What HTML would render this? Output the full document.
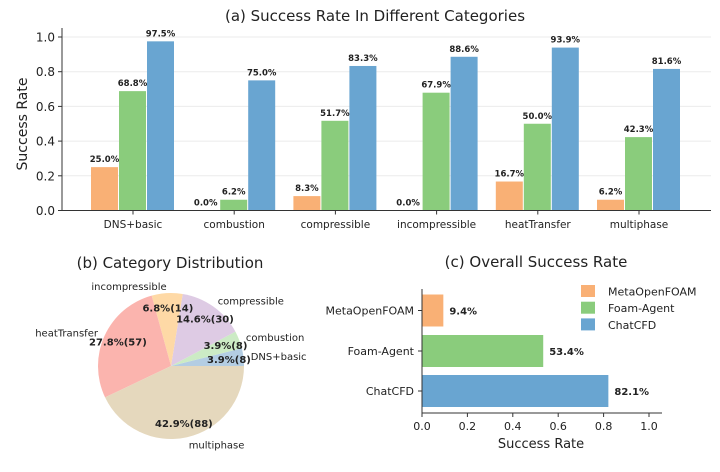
<!DOCTYPE html>
<html><head><meta charset="utf-8"><style>
body{margin:0;background:#fff;}
svg text{font-family:"DejaVu Sans","Liberation Sans",sans-serif;fill:#222;}
</style></head><body>
<svg id="s" width="720" height="467" xmlns="http://www.w3.org/2000/svg"></svg>
<script>
const categories=["DNS+basic","combustion","compressible","incompressible","heatTransfer","multiphase"];
const metaVals=[0.250,0.0,0.083,0.0,0.167,0.062];
const foamVals=[0.688,0.062,0.517,0.679,0.500,0.423];
const chatVals=[0.975,0.750,0.833,0.886,0.939,0.816];
const seriesNames=["MetaOpenFOAM","Foam-Agent","ChatCFD"];
const seriesColors=["#f9b075","#8acc7c","#69a5d1"];
const yTicks=[0,0.2,0.4,0.6,0.8,1.0];
const pieLabels=["DNS+basic","combustion","compressible","incompressible","heatTransfer","multiphase"];
const pieCounts=[8,8,30,14,57,88];
const pieColors=["#b3cde3","#ccebc5","#decbe4","#fed9a6","#fbb4ae","#e5d8bd"];
const overallNames=["MetaOpenFOAM","Foam-Agent","ChatCFD"];
const overallVals=[0.094,0.534,0.821];
const xTicks=[0,0.2,0.4,0.6,0.8,1.0];

const S=document.getElementById('s');const NS="http://www.w3.org/2000/svg";
function el(t,a,txt){const e=document.createElementNS(NS,t);for(const k in a)e.setAttribute(k,a[k]);if(txt!==undefined)e.textContent=txt;S.appendChild(e);return e;}

// Chart (a)
const ay=v=>210.5-v*173.5; const ax=i=>133+i*101.2;
let e=el('text',{x:375,y:21,'font-size':15,'text-anchor':'middle'},'(a) Success Rate In Different Categories');

yTicks.forEach(t=>{
 e=el('line',{x1:62,x2:711,y1:ay(t),y2:ay(t),stroke:'#ebebeb','stroke-width':1});
 
 e=el('line',{x1:58,x2:62,y1:ay(t),y2:ay(t),stroke:'#333'});
 
 e=el('text',{x:55,y:ay(t)+4.5,'font-size':12,'text-anchor':'end'},t.toFixed(1));
 
});
e=el('text',{x:27,y:124,'font-size':14,'text-anchor':'middle',transform:'rotate(-90 27 124)'},'Success Rate');

const allS=[metaVals,foamVals,chatVals];
categories.forEach((c,i)=>{
 allS.forEach((arr,j)=>{
  const x=ax(i)+(j-1)*28-14, v=arr[i];
  e=el('rect',{x:x,y:ay(v),width:27,height:ay(0)-ay(v),fill:seriesColors[j]});
  
  e=el('text',{x:x+13.5,y:ay(v)-5,'font-size':8.5,'font-weight':'bold','text-anchor':'middle'},(v*100).toFixed(1)+'%');
  
 });
 e=el('line',{x1:ax(i),x2:ax(i),y1:210.5,y2:214.5,stroke:'#333'});
 
 e=el('text',{x:ax(i),y:228,'font-size':10.5,'text-anchor':'middle'},c);
 
});
e=el('line',{x1:62,x2:62,y1:28,y2:211,stroke:'#333','stroke-width':1});

e=el('line',{x1:62,x2:711,y1:210.5,y2:210.5,stroke:'#333','stroke-width':1});


// Chart (b) pie
e=el('text',{x:170,y:268,'font-size':15,'text-anchor':'middle'},'(b) Category Distribution');

const cx=171,cy=366,r=73;const tot=pieCounts.reduce((a,b)=>a+b,0);
const angles=[];let acc=0;
pieCounts.forEach((n,i)=>{const a0=acc/tot*2*Math.PI;acc+=n;angles.push([a0,acc/tot*2*Math.PI]);});
pieCounts.forEach((n,i)=>{
 const [a0,a1]=angles[i];
 const p=(a)=>[cx+r*Math.cos(a),cy-r*Math.sin(a)];
 const [x0,y0]=p(a0),[x1,y1]=p(a1);
 e=el('path',{d:`M${cx},${cy}L${x0},${y0}A${r},${r} 0 ${a1-a0>Math.PI?1:0} 0 ${x1},${y1}Z`,fill:pieColors[i]});
 
});
pieCounts.forEach((n,i)=>{
 const [a0,a1]=angles[i];const am=(a0+a1)/2;
 const pct=(n/tot*100).toFixed(1)+'%('+n+')';
 e=el('text',{x:cx+0.8*r*Math.cos(am),y:cy-0.8*r*Math.sin(am)+4,'font-size':10,'font-weight':'bold','text-anchor':'middle'},pct);
 
 const lx=cx+1.1*r*Math.cos(am),ly=cy-1.1*r*Math.sin(am);
 e=el('text',{x:lx,y:ly+4,'font-size':10,'text-anchor':Math.cos(am)>0?'start':'end',fill:'#333'},pieLabels[i]);
 
});

// Chart (c)
const bx=v=>422+v*227; const rowY=[310.5,351,391];
e=el('text',{x:536,y:267,'font-size':15,'text-anchor':'middle'},'(c) Overall Success Rate');

overallNames.forEach((n,i)=>{
 const v=overallVals[i];
 e=el('rect',{x:422,y:rowY[i]-16,width:bx(v)-422,height:32,fill:seriesColors[i]});
 
 e=el('text',{x:bx(v)+6,y:rowY[i]+4,'font-size':10,'font-weight':'bold'},(v*100).toFixed(1)+'%');
 
 e=el('line',{x1:418,x2:422,y1:rowY[i],y2:rowY[i],stroke:'#333'});
 
 e=el('text',{x:414,y:rowY[i]+4,'font-size':11,'text-anchor':'end'},n);
 
});
xTicks.forEach(t=>{
 e=el('line',{x1:bx(t),x2:bx(t),y1:413,y2:417,stroke:'#333'});
 
 e=el('text',{x:bx(t),y:430,'font-size':11,'text-anchor':'middle'},t.toFixed(1));
 
});
e=el('line',{x1:422,x2:422,y1:289,y2:413,stroke:'#333'});

e=el('line',{x1:422,x2:662,y1:413,y2:413,stroke:'#333'});

e=el('text',{x:541,y:448,'font-size':13,'text-anchor':'middle'},'Success Rate');

seriesNames.forEach((n,i)=>{
 const y=285+i*16.7;
 e=el('rect',{x:581,y:y,width:14,height:12,fill:seriesColors[i]});
 
 e=el('text',{x:608,y:y+10.5,'font-size':11},n);
 
});
</script>
</body></html>
